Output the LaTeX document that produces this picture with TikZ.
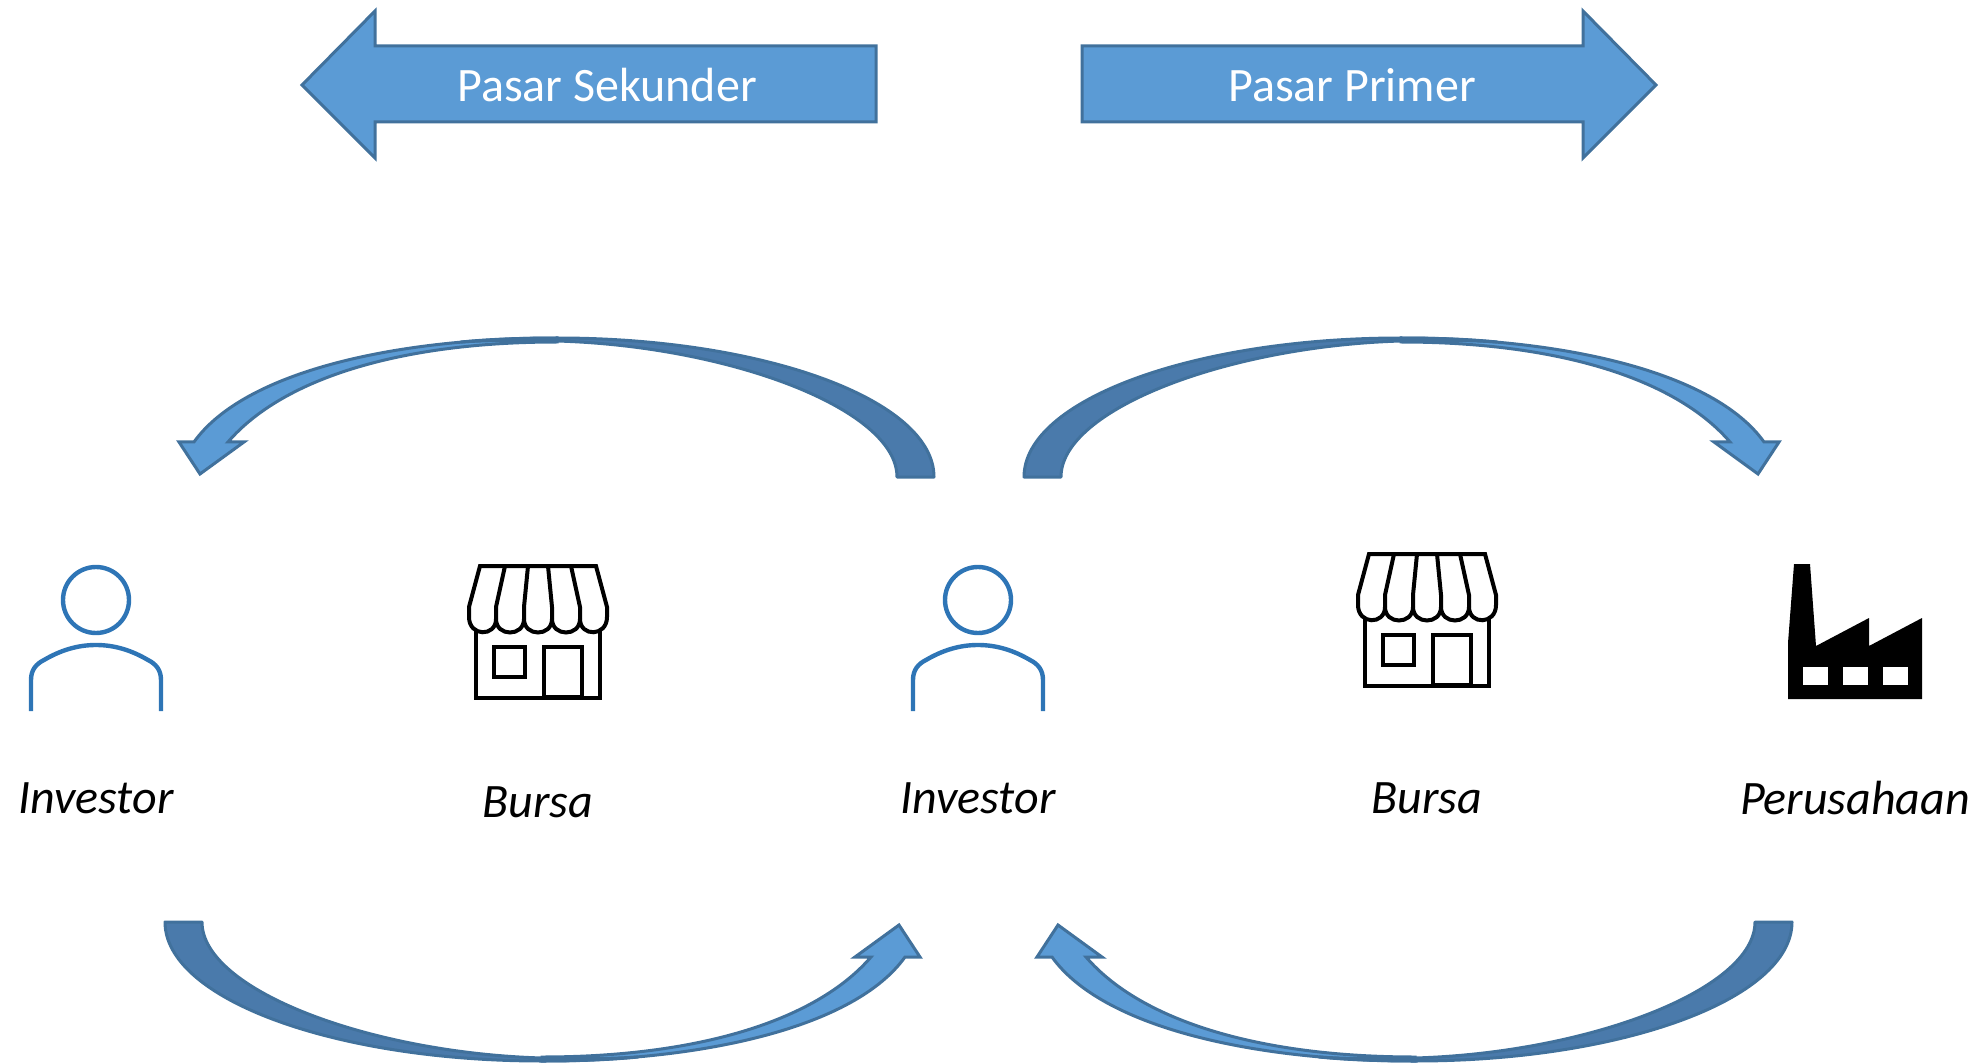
\documentclass[tikz,border=0pt]{standalone}
\usepackage{fontspec}
\setmainfont{Carlito}
\usetikzlibrary{positioning, calc}
\definecolor{bandblue}{HTML}{5B9BD5}
\definecolor{banddark}{HTML}{4A7AAB}
\definecolor{bandline}{HTML}{41719C}
\definecolor{personblue}{HTML}{2E75B6}

\begin{document}
\begin{tikzpicture}[
    x=1pt, y=-1pt,
    block/.style={draw=bandline, fill=bandblue, line width=3pt, line join=miter},
    blockback/.style={draw=bandline, fill=banddark, line width=3pt, line join=round},
    banner/.style={text=white, font=\fontsize{48}{52}\selectfont, inner sep=0pt},
    caption/.style={font=\fontsize{48}{52}\selectfont\itshape, inner sep=0pt},
    iconline/.style={draw=black, line width=4pt, line join=miter, fill=white},
    bentarrow/.pic={
        \draw[block] (-377,-139) .. controls (-540,-139) and (-690,-105) .. (-740,-35)
            -- (-755,-35) -- (-734,-3) -- (-690,-35) -- (-706,-35)
            .. controls (-650,-100) and (-530,-135) .. (-377,-135) -- cycle;
        \draw[blockback] (0,0) .. controls (0,-77) and (-170,-139) .. (-377,-139)
            .. controls (-410,-139) and (-442,-138) .. (-473,-135)
            .. controls (-442,-137) and (-410,-137) .. (-377,-136)
            .. controls (-205,-131) and (-37,-68) .. (-37,0) -- cycle;
    },
    person/.pic={
        \draw[draw=personblue, line width=4.4pt] (0,0) circle (33);
        \draw[draw=personblue, line width=4.4pt] (-65,111) -- (-65,80)
            .. controls (-65,70) and (-60,64) .. (-52,60)
            .. controls (-35,50) and (-18,45) .. (0,45)
            .. controls (18,45) and (35,50) .. (52,60)
            .. controls (60,64) and (65,70) .. (65,80) -- (65,111);
    },
    store/.pic={
        \draw[iconline] (-62,60) rectangle (62,133);
        \draw[iconline] (-44,82) rectangle (-13,112);
        \draw[iconline] (6,82) rectangle (44,132);
        % awning
        \draw[iconline] (-58,1) -- (58,1) -- (69,42) -- (69,52)
            .. controls (69,72) and (42,72) .. (42,54)
            .. controls (42,72) and (14,72) .. (14,54)
            .. controls (14,72) and (-14,72) .. (-14,54)
            .. controls (-14,72) and (-42,72) .. (-42,54)
            .. controls (-42,72) and (-69,72) .. (-69,52)
            -- (-69,42) -- cycle;
        \draw[iconline] (-33,1) -- (-42,42) -- (-42,54);
        \draw[iconline] (-10,1) -- (-14,42) -- (-14,54);
        \draw[iconline] (10,1) -- (14,42) -- (14,54);
        \draw[iconline] (33,1) -- (42,42) -- (42,54);
    }
]
\useasboundingbox (0,0) rectangle (1987,1064);

% Market banners
\draw[block] (302,85) -- (375,11) -- (375,46) -- (876,46) -- (876,122) -- (375,122) -- (375,158) -- cycle;
\draw[block] (1656,85) -- (1583,11) -- (1583,46) -- (1082,46) -- (1082,122) -- (1583,122) -- (1583,158) -- cycle;
\node[banner] (sekunder) at (607,85) {Pasar Sekunder};
\node[banner] (primer) at (1352,85) {Pasar Primer};

% Curved arrows
\pic (topleft) at (934,477) {bentarrow};
\pic[xscale=-1] (topright) at (1024,477) {bentarrow};
\pic[xscale=-1, yscale=-1] (botleft) at (165,922) {bentarrow};
\pic[yscale=-1] (botright) at (1792,922) {bentarrow};

% Icons
\pic (investora) at (96,600) {person};
\pic (bursaa) at (538,565) {store};
\pic (investorb) at (978,600) {person};
\pic (bursab) at (1427,553) {store};

% Factory
\fill[black] (1788,699) -- (1788,643) -- (1794,564) -- (1810,564) -- (1816,646) -- (1869,618) -- (1869,646)
    -- (1922,618) -- (1922,699) -- cycle;
\foreach \wx in {1803,1843,1883} {
    \fill[white] (\wx,667) rectangle ++(25,18);
}

% Captions
\node[caption] (capinvestora) at (96,798) {Investor};
\node[caption] (capbursaa) at (538,802) {Bursa};
\node[caption] (capinvestorb) at (978,798) {Investor};
\node[caption] (capbursab) at (1427,798) {Bursa};
\node[caption] (capperusahaan) at (1855,798) {Perusahaan};

\end{tikzpicture}
\end{document}
